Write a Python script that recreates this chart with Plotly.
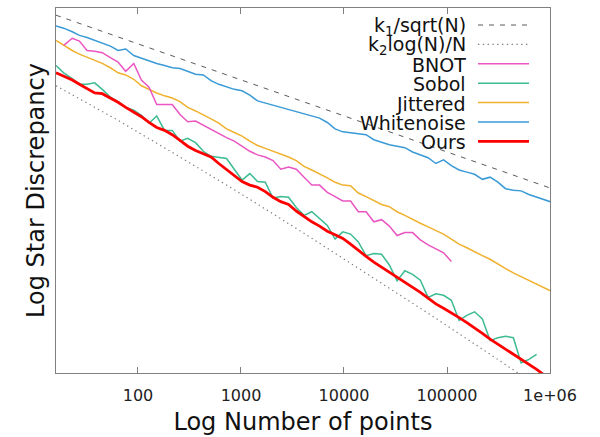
import plotly.graph_objects as go

# Sample sizes: four per octave, from 16 to 2^20 points
N = [16, 19, 23, 27, 32, 38, 45, 54, 64, 76, 91, 108, 128, 152, 181, 215,
     256, 304, 362, 431, 512, 609, 724, 861, 1024, 1218, 1448, 1722,
     2048, 2436, 2896, 3444, 4096, 4871, 5793, 6889, 8192, 9742, 11585, 13777,
     16384, 19484, 23170, 27554, 32768, 38968, 46341, 55109,
     65536, 77936, 92682, 110218, 131072, 155872, 185364, 220436,
     262144, 311744, 370728, 440872, 524288, 623487, 741455, 881744, 1048576]

# log10 of the star discrepancy for each sampler
whitenoise = [-0.25, -0.28, -0.33, -0.38, -0.41, -0.45, -0.48, -0.53,
              -0.59, -0.57, -0.66, -0.70, -0.73, -0.77, -0.80, -0.83,
              -0.84, -0.88, -0.92, -0.93, -1.01, -1.06, -1.10, -1.13,
              -1.15, -1.21, -1.29, -1.32, -1.34, -1.38, -1.40, -1.43,
              -1.46, -1.50, -1.53, -1.59, -1.68, -1.72, -1.73, -1.74,
              -1.76, -1.83, -1.87, -1.90, -1.92, -1.94, -2.00, -2.04,
              -2.08, -2.16, -2.11, -2.19, -2.25, -2.28, -2.31, -2.38,
              -2.35, -2.42, -2.51, -2.53, -2.54, -2.59, -2.63, -2.66, -2.70]

jittered = [-0.45, -0.52, -0.59, -0.64, -0.68, -0.72, -0.77, -0.83,
            -0.90, -0.93, -0.99, -1.08, -1.13, -1.18, -1.22, -1.25,
            -1.30, -1.38, -1.43, -1.48, -1.54, -1.60, -1.68, -1.73,
            -1.78, -1.85, -1.91, -1.95, -1.99, -2.02, -2.07, -2.12,
            -2.20, -2.25, -2.30, -2.36, -2.42, -2.46, -2.47, -2.57,
            -2.62, -2.68, -2.73, -2.76, -2.83, -2.88, -2.94, -2.99,
            -3.04, -3.09, -3.14, -3.21, -3.28, -3.33, -3.39, -3.44,
            -3.49, -3.56, -3.62, -3.68, -3.73, -3.78, -3.84, -3.89, -3.94]

# BNOT runs from N[1] to N[51]
bnot = [-0.52, -0.42, -0.46,
        -0.59, -0.60, -0.62, -0.69, -0.75, -0.88, -0.77, -1.00,
        -1.10, -1.34, -1.34, -1.34, -1.48, -1.58, -1.57, -1.63,
        -1.69, -1.75, -1.80, -1.85, -1.92, -1.99, -2.04, -2.07,
        -2.12, -2.24, -2.21, -2.24, -2.35, -2.46, -2.46, -2.56,
        -2.62, -2.68, -2.68, -2.83, -2.83, -2.97, -2.94, -3.03,
        -3.16, -3.12, -3.12, -3.22, -3.29, -3.34, -3.40, -3.52]

# Sobol runs from N[0] to N[62]
sobol = [-0.80, -0.90, -0.98, -1.06, -1.06, -1.04, -1.13, -1.24,
         -1.30, -1.38, -1.42, -1.49, -1.60, -1.50, -1.70, -1.70,
         -1.85, -1.81, -1.87, -1.99, -2.06, -2.07, -2.09, -2.24,
         -2.39, -2.30, -2.41, -2.42, -2.64, -2.62, -2.63, -2.77,
         -2.88, -2.83, -2.93, -3.02, -3.21, -3.11, -3.14, -3.25,
         -3.44, -3.41, -3.42, -3.57, -3.79, -3.65, -3.70, -3.78,
         -4.02, -3.97, -3.99, -4.06, -4.34, -4.27, -4.22, -4.32,
         -4.62, -4.58, -4.56, -4.58, -4.93, -4.88, -4.81]

ours = [-0.90, -0.95, -1.00, -1.06, -1.12, -1.18, -1.19, -1.25,
        -1.31, -1.38, -1.45, -1.51, -1.59, -1.66, -1.70, -1.76,
        -1.84, -1.92, -1.98, -2.02, -2.07, -2.16, -2.24, -2.32,
        -2.41, -2.46, -2.49, -2.55, -2.63, -2.69, -2.73, -2.82,
        -2.90, -2.97, -3.03, -3.10, -3.15, -3.20, -3.28, -3.37,
        -3.45, -3.53, -3.60, -3.66, -3.73, -3.80, -3.87, -3.95,
        -4.03, -4.11, -4.17, -4.23, -4.30, -4.37, -4.44, -4.52,
        -4.60, -4.67, -4.74, -4.80, -4.87, -4.94, -5.02, -5.10, -5.17]

# Reference rates
k1_n = [16, 1048576]
k1_curve = [-0.10, -2.51]
k2_n = [16, 64, 256, 1024, 4096, 16384, 65536, 262144, 1048576]
k2_curve = [-1.08, -1.56, -2.07, -2.59, -3.13, -3.68, -4.24, -4.81, -5.39]

x_ticks = [100, 1000, 10000, 100000, 1000000]
x_tick_labels = ["100", "1000", "10000", "100000", "1e+06"]

FONT = "DejaVu Sans"

series = [
    ("k<sub>1</sub>/sqrt(N)", k1_n, k1_curve, dict(color="#5a5a5a", width=1, dash="5px,6px")),
    ("k<sub>2</sub>log(N)/N", k2_n, k2_curve, dict(color="#7a7a7a", width=1.2, dash="1.3px,3.5px")),
    ("BNOT", N[1:52], bnot, dict(color="#ea55c2", width=1.5)),
    ("Sobol", N[0:63], sobol, dict(color="#3dbb92", width=1.5)),
    ("Jittered", N, jittered, dict(color="#f0b12e", width=1.5)),
    ("Whitenoise", N, whitenoise, dict(color="#3a9ad6", width=1.5)),
    ("Ours", N, ours, dict(color="#ff0000", width=2.8)),
]

fig = go.Figure()
draw_order = [0, 1, 5, 4, 2, 3, 6]
for i in draw_order:
    name, xs, ys, line = series[i]
    fig.add_trace(go.Scatter(x=xs, y=ys, mode="lines", name=name,
                             line=line, showlegend=False, hoverinfo="skip"))

# Plot area geometry in pixels (used for the hand-built key)
L, T, W, H = 56, 8, 494, 365
FIG_W, FIG_H = 600, 437

def px_x(p):
    return (p - L) / W

def px_y(p):
    return 1 - (p - T) / H

text_right = px_x(467)
line_x0, line_x1 = px_x(478), px_x(529)
for i, (name, xs, ys, line) in enumerate(series):
    row = 25 + 19.4 * i
    fig.add_annotation(x=text_right, y=px_y(row + 1), xref="paper", yref="paper",
                       text=name, showarrow=False, xanchor="right", yanchor="middle",
                       borderpad=0,
                       font=dict(family=FONT, size=19, color="#111111"))
    fig.add_shape(type="line", xref="paper", yref="paper",
                  x0=line_x0, x1=line_x1, y0=px_y(row), y1=px_y(row), line=line)

frame = "#808080"
fig.update_xaxes(
    type="log", range=[1.2041, 6.0],
    tickvals=x_ticks, ticktext=x_tick_labels,
    ticks="inside", ticklen=6, tickwidth=1.2, tickcolor=frame,
    showline=True, linecolor=frame, linewidth=1.4, mirror="ticks",
    showgrid=False, zeroline=False,
    tickfont=dict(family=FONT, size=16, color="#222222"),
    ticklabelstandoff=8,
    title=dict(text="Log Number of points", standoff=8,
               font=dict(family=FONT, size=24, color="#111111")),
)
fig.update_yaxes(
    range=[-5.07, 0.0],
    showticklabels=False, ticks="",
    showline=True, linecolor=frame, linewidth=1.4, mirror=True,
    showgrid=False, zeroline=False,
    title=dict(text="Log Star Discrepancy", standoff=3,
               font=dict(family=FONT, size=24, color="#111111")),
)
fig.update_layout(
    width=FIG_W, height=FIG_H,
    margin=dict(l=L, r=FIG_W - L - W, t=T, b=FIG_H - T - H, autoexpand=False),
    paper_bgcolor="white", plot_bgcolor="white",
    font=dict(family=FONT),
)

fig.write_html("out.html")
